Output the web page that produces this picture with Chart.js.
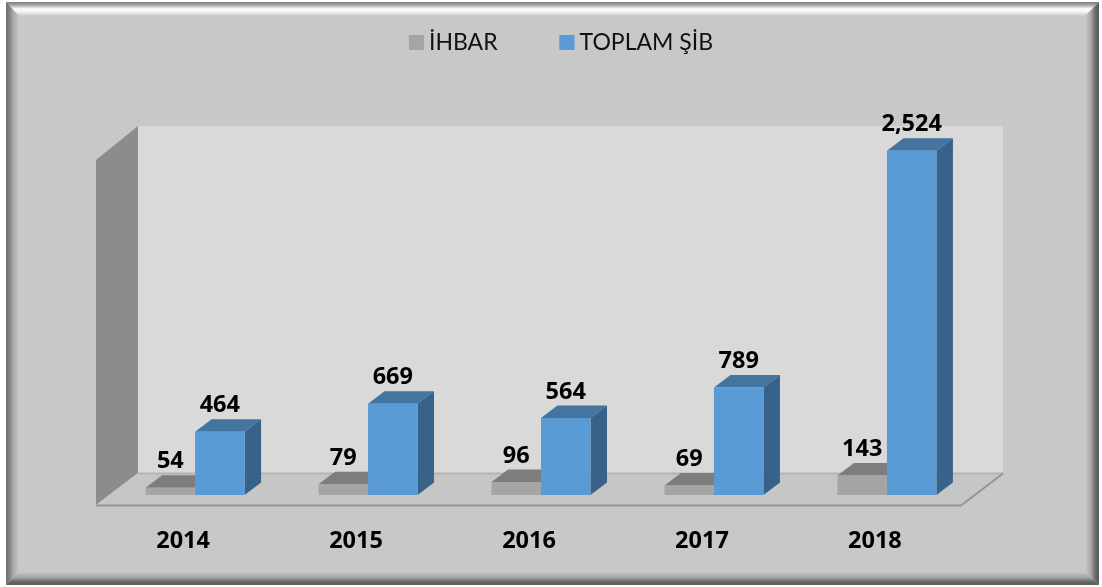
<!DOCTYPE html>
<html><head><meta charset="utf-8">
<style>html,body{margin:0;padding:0;background:#fff;overflow:hidden}canvas{display:block}</style>
<script src="https://cdn.jsdelivr.net/npm/chart.js@4"></script>
</head><body>
<div style="width:1102px;height:587px"><canvas id="c" width="1102" height="587"></canvas></div>
<script>
const categories = ['2014','2015','2016','2017','2018'];
const ihbarValues = [54,79,96,69,143];
const toplamSibValues = [464,669,564,789,2524];
const seriesNames = ['İHBAR','TOPLAM ŞİB'];
const seriesColors = ['#a5a5a5','#5b9bd5'];

const FONT = 'Lato, "Open Sans", sans-serif';
const BOLD = '"Open Sans", Lato, sans-serif';
const DX = 16.5, DY = 12.5;
const LEGEND_SHIFT = 20, LEGEND_TOP = -31;
const sideStyles = [
  {top:'#7d7d7d', side:'#7d7d7d'},
  {top:'#4475a1', side:'#386289'}
];
function poly(ctx, pts, fill){
  ctx.beginPath();
  pts.forEach((p,i)=> i?ctx.lineTo(p[0],p[1]):ctx.moveTo(p[0],p[1]));
  ctx.closePath();
  ctx.fillStyle = fill; ctx.fill();
}
function lin(ctx,x0,y0,x1,y1,stops){
  const g = ctx.createLinearGradient(x0,y0,x1,y1);
  stops.forEach(s=>g.addColorStop(s[0],s[1]));
  return g;
}
const scene = {
  id:'scene',
  afterLayout(chart){
    const lg = chart.legend;
    lg.top = LEGEND_TOP; lg.left += LEGEND_SHIFT; lg.right += LEGEND_SHIFT;
  },
  beforeDraw(chart){
    const ctx = chart.ctx, W = chart.width, H = chart.height;
    ctx.save();
    ctx.fillStyle='#ffffff'; ctx.fillRect(0,0,W,H);
    const L=6,T=2,R=1099,B=585,l=19,t=16,r=1085,b=572;
    poly(ctx,[[L,T],[R,T],[R,B],[L,B]],'#c8c8c8');
    poly(ctx,[[L,T],[R,T],[r,t],[l,t]],lin(ctx,0,T,0,t,[[0,'#7f7f7f'],[.2,'#a0a0a0'],[.5,'#ffffff'],[.7,'#f4f4f4'],[1,'#c8c8c8']]));
    poly(ctx,[[L,T],[l,t],[l,b],[L,B]],lin(ctx,L,0,l,0,[[0,'#6f6f6f'],[.25,'#808080'],[.55,'#a8a8a8'],[1,'#c8c8c8']]));
    poly(ctx,[[R,T],[r,t],[r,b],[R,B]],lin(ctx,r,0,R,0,[[0,'#c8c8c8'],[.4,'#aaaaaa'],[.75,'#6a6a6a'],[1,'#585858']]));
    poly(ctx,[[L,B],[l,b],[r,b],[R,B]],lin(ctx,0,b,0,B,[[0,'#c8c8c8'],[.45,'#a0a0a0'],[.75,'#666666'],[1,'#5a5a5a']]));
    poly(ctx,[[138,126],[1003,126],[1003,473],[138,473]],'#d9d9d9');
    poly(ctx,[[96,160],[138,126],[138,473],[96,505]],'#8c8c8c');
    poly(ctx,[[96,505],[138,473],[1003,473],[961,505]],'#c6c6c6');
    ctx.lineWidth=2; ctx.strokeStyle='#b3b3b3';
    ctx.beginPath(); ctx.moveTo(138,473.5); ctx.lineTo(1003,473.5); ctx.stroke();
    ctx.strokeStyle='#969696';
    ctx.beginPath(); ctx.moveTo(96,505.5); ctx.lineTo(961,505.5); ctx.lineTo(1003,473.5); ctx.stroke();
    ctx.restore();
  },
  beforeDatasetsDraw(chart){
    const ctx = chart.ctx;
    chart.data.datasets.forEach((ds,di)=>{
      chart.getDatasetMeta(di).data.forEach(bar=>{
        const hw = bar.width/2, x0=bar.x-hw, x1=bar.x+hw, y=bar.y, b=bar.base;
        poly(ctx,[[x0,y],[x1,y],[x1+DX,y-DY],[x0+DX,y-DY]],sideStyles[di].top);
        poly(ctx,[[x1,y],[x1+DX,y-DY],[x1+DX,b-DY],[x1,b]],sideStyles[di].side);
      });
    });
  },
  afterDatasetsDraw(chart){
    const ctx = chart.ctx;
    ctx.save();
    ctx.font = 'bold 23.5px '+BOLD;
    ctx.fillStyle='#000'; ctx.textAlign='center'; ctx.textBaseline='middle';
    chart.data.datasets.forEach((ds,di)=>{
      chart.getDatasetMeta(di).data.forEach((bar,i)=>{
        ctx.fillText(ds.data[i].toLocaleString('en-US'), bar.x, bar.y-26);
      });
    });
    ctx.restore();
  },
  afterDraw(chart){
    // legend swatches are 15px wide while the text sits closer than Chart.js' default gap
    const lg = chart.legend, ctx = chart.ctx;
    const y = lg.top + lg.options.labels.padding + 4;
    lg.legendHitBoxes.forEach((hb,i)=>{
      ctx.fillStyle = seriesColors[i];
      ctx.fillRect(hb.left, y, 15, 15);
    });
  }
};
new Chart(document.getElementById('c'),{
  type:'bar',
  data:{labels:categories,datasets:[
    {label:seriesNames[0],data:ihbarValues,backgroundColor:seriesColors[0],borderWidth:0},
    {label:seriesNames[1],data:toplamSibValues,backgroundColor:seriesColors[1],borderWidth:0}
  ]},
  options:{
    responsive:false,animation:false,
    categoryPercentage:99/173,barPercentage:1,
    layout:{padding:{left:108.6,right:128.6,top:4.5,bottom:0}},
    plugins:{
      legend:{position:'top',align:'center',labels:{boxWidth:8.5,boxHeight:15,padding:62,color:'#111',font:{family:FONT,size:23}}},
      tooltip:{enabled:false}
    },
    scales:{
      x:{grid:{display:false},border:{display:false},
         afterFit(s){s.height=92;},
         ticks:{color:'#000',padding:24,labelOffset:-12,maxRotation:0,font:{family:BOLD,size:23.5,weight:'bold'}}},
      y:{display:false,min:0,max:2900}
    }
  },
  plugins:[scene]
});
</script>
</body></html>
